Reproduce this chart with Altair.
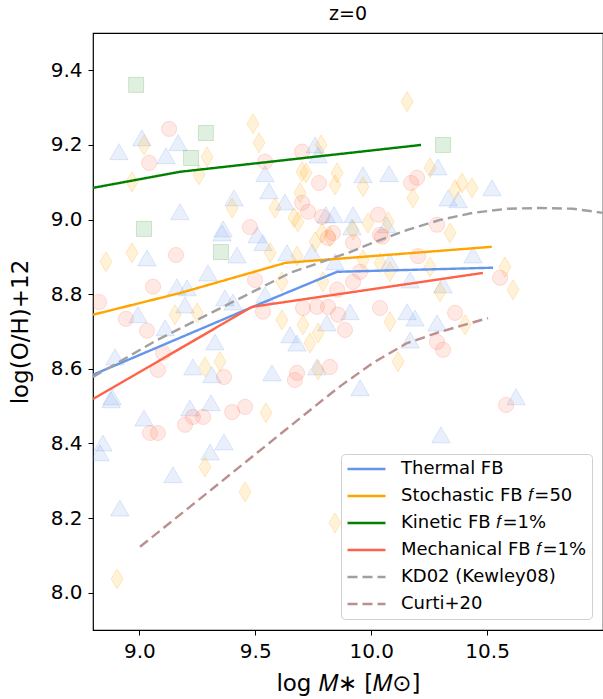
import altair as alt
import pandas as pd

# ---------------- scatter data ----------------
# Thermal FB galaxies (triangles)
tri_x = [8.912, 9.011, 9.167, 9.115, 9.542, 9.559, 9.408, 9.628, 9.175, 9.758,
         9.771, 9.840, 9.805, 9.361, 9.965, 10.077, 10.288, 10.521, 10.332, 10.375,
         9.922, 9.357, 9.508, 9.533, 9.421, 9.033, 9.637, 9.745, 9.844, 9.296,
         9.162, 9.206, 9.369, 9.542, 9.404, 9.197, 8.994, 9.111, 9.650, 9.680,
         9.809, 9.326, 8.895, 9.231, 9.572, 9.766, 9.313, 8.882, 9.917, 10.068,
         10.081, 10.168, 10.310, 9.909, 10.155, 10.189, 10.284, 10.168, 9.952, 10.625,
         10.301, 8.878, 9.020, 9.218, 9.309, 8.843, 8.830, 9.305, 9.365, 9.145,
         8.916, 10.439]
tri_y = [9.182, 9.219, 9.206, 9.171, 9.123, 9.077, 9.058, 9.047, 9.021, 9.200,
         9.173, 9.013, 9.013, 8.975, 9.120, 9.123, 9.141, 9.085, 9.058, 9.053,
         9.013, 8.964, 8.959, 8.938, 8.905, 8.897, 8.911, 8.913, 8.887, 8.857,
         8.820, 8.817, 8.790, 8.798, 8.779, 8.771, 8.745, 8.710, 8.691, 8.669,
         8.723, 8.672, 8.632, 8.605, 8.589, 8.605, 8.584, 8.525, 8.980, 8.986,
         8.887, 8.838, 8.825, 8.753, 8.753, 8.736, 8.723, 8.677, 8.549, 8.525,
         8.423, 8.517, 8.468, 8.495, 8.509, 8.401, 8.375, 8.377, 8.404, 8.316,
         8.227, 8.905]

# Stochastic FB galaxies (diamonds)
dia_x = [10.155, 9.490, 9.516, 9.020, 9.292, 9.257, 8.968, 9.784, 9.702, 9.719,
         9.853, 9.844, 9.585, 9.400, 9.693, 9.667, 9.684, 9.965, 10.254, 10.180,
         10.362, 10.392, 10.435, 9.986, 10.073, 9.922, 8.856, 8.968, 9.788, 9.822,
         9.564, 9.680, 9.758, 9.154, 9.249, 9.615, 9.706, 9.736, 9.771, 9.283,
         9.348, 9.771, 9.792, 9.615, 9.965, 10.038, 10.081, 10.297, 10.081, 10.340,
         10.254, 10.577, 10.612, 10.405, 10.116, 9.546, 9.283, 9.456, 8.904, 9.844]
dia_y = [9.316, 9.257, 9.206, 9.200, 9.168, 9.120, 9.101, 9.200, 9.128, 9.125,
         9.125, 9.093, 9.031, 9.031, 9.072, 9.005, 8.994, 9.088, 9.139, 9.058,
         9.080, 9.098, 9.085, 8.991, 8.994, 8.972, 8.887, 8.911, 8.964, 8.954,
         8.911, 8.902, 8.940, 8.745, 8.750, 8.731, 8.718, 8.669, 8.696, 8.605,
         8.619, 8.597, 8.833, 8.833, 8.892, 8.884, 8.860, 8.806, 8.726, 8.964,
         8.873, 8.873, 8.812, 8.718, 8.619, 8.482, 8.337, 8.270, 8.037, 8.187]

# Kinetic FB galaxies (squares)
sq_x = [8.986, 9.287, 9.223, 9.020, 9.352, 10.310]
sq_y = [9.361, 9.232, 9.165, 8.975, 8.913, 9.200]

# Mechanical FB galaxies (circles)
cir_x = [9.128, 9.042, 9.542, 9.702, 9.775, 9.702, 9.728, 9.788, 10.172, 10.198,
         10.030, 10.284, 9.477, 9.158, 9.059, 8.826, 8.942, 9.033, 9.102, 9.080,
         9.365, 9.680, 9.822, 9.814, 9.706, 9.766, 9.814, 9.857, 9.887, 9.499,
         9.533, 9.835, 10.038, 9.952, 9.853, 9.922, 10.202, 10.038, 9.922, 10.047,
         10.362, 10.284, 10.310, 10.556, 10.582, 9.046, 9.080, 9.197, 9.231, 9.275,
         9.400, 9.456, 9.671]
cir_y = [9.243, 9.152, 9.155, 9.182, 9.098, 9.045, 9.021, 9.007, 9.098, 9.112,
         9.013, 8.986, 8.980, 8.905, 8.820, 8.779, 8.734, 8.702, 8.643, 8.597,
         8.578, 8.589, 8.605, 8.951, 8.763, 8.766, 8.766, 8.745, 8.704, 8.838,
         8.753, 8.964, 8.959, 8.860, 8.812, 8.833, 8.902, 8.763, 8.938, 8.954,
         8.750, 8.672, 8.651, 8.844, 8.503, 8.428, 8.428, 8.450, 8.471, 8.471,
         8.484, 8.498, 8.570]

# ---------------- median relations ----------------
thermal_x = [8.80, 9.50, 9.853, 10.526]
thermal_y = [8.584, 8.769, 8.860, 8.871]
stoch_x = [8.80, 9.175, 9.63, 10.52]
stoch_y = [8.745, 8.803, 8.884, 8.927]
kin_x = [8.80, 9.175, 10.215]
kin_y = [9.085, 9.128, 9.200]
mech_x = [8.80, 9.486, 10.482]
mech_y = [8.519, 8.766, 8.857]
kd_x = [8.80, 9.076, 9.361, 9.650, 9.909, 10.008, 10.155, 10.297, 10.439, 10.586, 10.728, 10.871, 11.0]
kd_y = [8.578, 8.677, 8.766, 8.857, 8.913, 8.938, 8.972, 8.999, 9.018, 9.029, 9.031, 9.029, 9.018]
curti_x = [9.003, 9.218, 9.508, 9.792, 9.87, 10.008, 10.155, 10.297, 10.504]
curti_y = [8.123, 8.230, 8.375, 8.517, 8.555, 8.616, 8.669, 8.699, 8.736]

series_names = ["Thermal FB", "Stochastic FB 𝑓=50", "Kinetic FB 𝑓=1%",
                "Mechanical FB 𝑓=1%", "KD02 (Kewley08)", "Curti+20"]
series_colors = ["#6495ED", "#FFA500", "#008000", "#FF6347", "#A0A0A0", "#BC8F8F"]
series_dash = [[1, 0], [1, 0], [1, 0], [1, 0], [10, 5], [10, 5]]
series_width = [2.4, 2.4, 2.4, 2.4, 2.7, 2.7]

line_sets = [(thermal_x, thermal_y), (stoch_x, stoch_y), (kin_x, kin_y),
             (mech_x, mech_y), (kd_x, kd_y), (curti_x, curti_y)]
rows = []
for name, (xs, ys) in zip(series_names, line_sets):
    for i, (a, b) in enumerate(zip(xs, ys)):
        rows.append({"series": name, "x": a, "y": b, "i": i})
lines_df = pd.DataFrame(rows)

xscale = alt.Scale(domain=[8.8, 11.0], nice=False, zero=False)
yscale = alt.Scale(domain=[7.9, 9.5], nice=False, zero=False)
xaxis = alt.Axis(values=[9.0, 9.5, 10.0, 10.5], format=".1f", title="log 𝑀∗ [𝑀⊙]")
yaxis = alt.Axis(values=[8.0, 8.2, 8.4, 8.6, 8.8, 9.0, 9.2, 9.4], format=".1f",
                 title="log(O/H)+12")


def scatter(xs, ys, shape, color, size, fop, sop):
    df = pd.DataFrame({"x": xs, "y": ys})
    return alt.Chart(df).mark_point(
        shape=shape, size=size, filled=True, fill=color, stroke=color,
        fillOpacity=fop, strokeOpacity=sop, strokeWidth=1, clip=True
    ).encode(
        x=alt.X("x:Q", scale=xscale, axis=xaxis),
        y=alt.Y("y:Q", scale=yscale, axis=yaxis),
    )


tri = scatter(tri_x, tri_y, "triangle-up", "#6495ED", 340, 0.14, 0.2)
dia = scatter(dia_x, dia_y, "M0,-1L0.6,0L0,1L-0.6,0Z", "#FFA500", 400, 0.15, 0.22)
sq = scatter(sq_x, sq_y, "square", "#008000", 225, 0.12, 0.17)
cir = scatter(cir_x, cir_y, "circle", "#FF6347", 230, 0.14, 0.2)

legend = alt.Legend(
    title=None, orient="none", legendX=248, legendY=421,
    symbolType="stroke", symbolSize=1444, symbolStrokeWidth=2,
    clipHeight=20, rowPadding=7, labelOffset=14, padding=5,
    labelFontSize=18, labelFont="DejaVu Sans", labelColor="black", labelLimit=400,
    strokeColor="#d0d0d0", fillColor="rgba(255,255,255,0.8)", cornerRadius=4,
)

lines = alt.Chart(lines_df).mark_line(clip=True).encode(
    x=alt.X("x:Q", scale=xscale, axis=xaxis),
    y=alt.Y("y:Q", scale=yscale, axis=yaxis),
    color=alt.Color("series:N", scale=alt.Scale(domain=series_names, range=series_colors),
                    sort=series_names, legend=legend),
    strokeDash=alt.StrokeDash("series:N", scale=alt.Scale(domain=series_names, range=series_dash),
                              sort=series_names, legend=legend),
    strokeWidth=alt.StrokeWidth("series:N", scale=alt.Scale(domain=series_names, range=series_width),
                                legend=None),
    order="i:Q",
)

chart = alt.layer(tri, dia, sq, cir, lines).properties(
    width=510, height=597,
    padding={"left": 93, "top": 33, "right": 0, "bottom": 69},
    autosize=alt.AutoSizeParams(type="none"),
    title=alt.TitleParams("z=0", fontSize=19, fontWeight="normal", font="DejaVu Sans",
                          baseline="alphabetic", offset=11, dy=17, color="black"),
).configure(
    font="DejaVu Sans",
).configure_view(
    stroke="black", strokeWidth=1.2,
).configure_axis(
    grid=False, domain=False, ticks=True, tickSize=5, tickColor="black", tickWidth=1,
    labelFontSize=20, labelColor="black", labelFont="DejaVu Sans", labelPadding=6,
    titleFontSize=23, titleColor="black", titleFont="DejaVu Sans", titleFontWeight="normal",
).configure_axisY(
    titlePadding=18,
).configure_axisX(
    titlePadding=11,
)

chart.save("out.html", embed_options={"renderer": "svg", "actions": False})
